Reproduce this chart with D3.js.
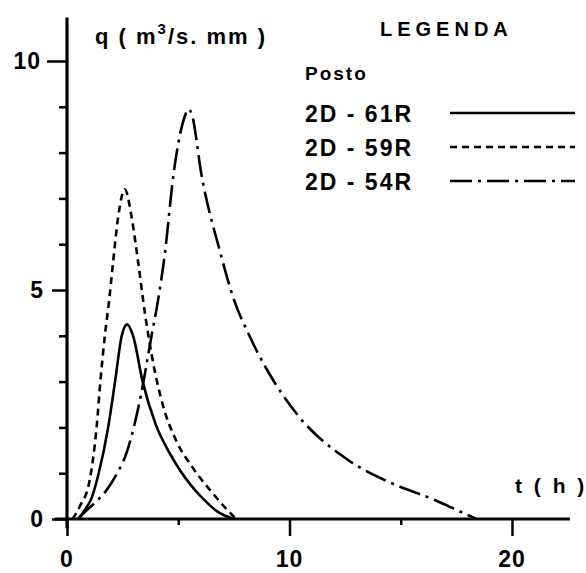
<!DOCTYPE html>
<html>
<head>
<meta charset="utf-8">
<script src="https://cdn.jsdelivr.net/npm/d3@7"></script>
<style>
  body { margin: 0; background: #fff; }
  text { font-family: "Liberation Sans", Arial, sans-serif; font-weight: bold; fill: #000; }
</style>
</head>
<body>
<svg id="chart"></svg>
<script>
// hydrograph values: t (h) and q (m3/s.mm)
const t61 = [0.5, 0.8, 1.1, 1.4, 1.85, 2.16, 2.46, 2.7, 2.97, 3.4, 4.0, 4.6, 5.1, 6.1, 6.8, 7.5];
const q61 = [0, 0.2, 0.45, 0.95, 2.0, 3.0, 4.0, 4.25, 4.0, 3.0, 2.05, 1.45, 1.05, 0.45, 0.15, 0];

const t59 = [0.25, 0.6, 1.0, 1.33, 1.5, 1.7, 1.9, 2.07, 2.3, 2.6, 2.9, 3.2, 3.5, 3.8, 4.3, 4.9, 5.68, 6.57, 7.2, 7.6];
const q59 = [0, 0.3, 0.8, 2.0, 3.0, 4.0, 4.8, 5.6, 6.6, 7.2, 6.6, 5.6, 4.5, 3.6, 2.5, 1.72, 1.1, 0.55, 0.2, 0];

const t54 = [0.5, 0.73, 1.2, 1.78, 2.2, 2.68, 3.28, 3.8, 4.1, 4.4, 4.78, 5.3, 5.45, 5.6, 6.05, 6.9, 7.46, 8.2, 9.57, 10.4, 12.6, 14.6, 16.5, 17.5, 18.4];
const q54 = [0, 0.12, 0.33, 0.63, 0.95, 1.45, 2.6, 4.0, 4.8, 5.8, 7.5, 8.8, 8.95, 8.85, 7.5, 5.8, 4.85, 4.0, 2.8, 2.25, 1.3, 0.78, 0.42, 0.2, 0];

const seriesNames = ["2D - 61R", "2D - 59R", "2D - 54R"];
const xTicks = [0, 5, 10, 15, 20];
const xLabels = [0, 10, 20];
const yTicks = [0, 1, 2, 3, 4, 5, 6, 7, 8, 9, 10];
const yLabels = [0, 5, 10];

const width = 586, height = 573;
const dashes = [null, "7,5", "22,6,3,6"];

const svg = d3.select("#chart")
    .attr("width", width)
    .attr("height", height);

const x = d3.scaleLinear().domain([0, 20]).range([67, 512]);
const y = d3.scaleLinear().domain([0, 10]).range([519, 61]);

// axes
const xAxis = svg.append("g")
    .attr("transform", `translate(0,${y(0)})`)
    .call(d3.axisBottom(x).tickValues(xTicks).tickFormat(""));
xAxis.select(".domain").remove();
xAxis.selectAll(".tick line")
    .attr("stroke-width", 2.5)
    .attr("y2", d => d % 10 === 0 ? 17 : 6);

const yAxis = svg.append("g")
    .attr("transform", `translate(${x(0)},0)`)
    .call(d3.axisLeft(y).tickValues(yTicks).tickFormat(""));
yAxis.select(".domain").remove();
yAxis.selectAll(".tick line")
    .attr("stroke-width", 2.5)
    .attr("x2", d => d === 10 ? -20 : d % 5 === 0 ? -15 : -8);

svg.append("line")
    .attr("x1", x(-0.55)).attr("x2", x(22.6))
    .attr("y1", y(0)).attr("y2", y(0))
    .attr("stroke", "#000").attr("stroke-width", 3.2);

svg.append("line")
    .attr("x1", x(0)).attr("x2", x(0))
    .attr("y1", y(-0.2)).attr("y2", y(10.95))
    .attr("stroke", "#000").attr("stroke-width", 3.2);

svg.selectAll(".xlabel")
    .data(xLabels)
    .enter().append("text")
    .attr("class", "xlabel")
    .attr("x", d => x(d))
    .attr("y", 567)
    .attr("text-anchor", "middle")
    .style("font-size", "23px")
    .style("letter-spacing", "1px")
    .text(d => d);

svg.selectAll(".ylabel")
    .data(yLabels)
    .enter().append("text")
    .attr("class", "ylabel")
    .attr("x", d => d === 10 ? 41 : 44)
    .attr("y", d => y(d) + 8)
    .attr("text-anchor", "end")
    .style("font-size", "23px")
    .style("letter-spacing", "1px")
    .text(d => d);

// axis titles
const qLabel = svg.append("text")
    .attr("x", 95)
    .attr("y", 44)
    .style("font-size", "22px")
    .style("letter-spacing", "2px")
    .style("white-space", "pre");
qLabel.append("tspan").text("q ( m");
qLabel.append("tspan").attr("dy", -10).style("font-size", "15px").text("3");
qLabel.append("tspan").attr("dy", 10).text("/s. mm )");

svg.append("text")
    .attr("x", 515)
    .attr("y", 493)
    .style("font-size", "21px")
    .style("letter-spacing", "3px")
    .text("t ( h )");

// curves
const line = d3.line()
    .x(d => x(d[0]))
    .y(d => y(d[1]))
    .curve(d3.curveMonotoneX);

const series = [
    d3.zip(t61, q61),
    d3.zip(t59, q59),
    d3.zip(t54, q54)
];

svg.selectAll(".curve")
    .data(series)
    .enter().append("path")
    .attr("class", "curve")
    .attr("d", line)
    .attr("fill", "none")
    .attr("stroke", "#000")
    .attr("stroke-width", 2.6)
    .attr("stroke-dasharray", (d, i) => dashes[i]);

// legend
svg.append("text")
    .attr("x", 380)
    .attr("y", 36)
    .style("font-size", "20px")
    .style("letter-spacing", "5px")
    .text("LEGENDA");

svg.append("text")
    .attr("x", 305)
    .attr("y", 80)
    .style("font-size", "19px")
    .style("letter-spacing", "2px")
    .text("Posto");

const legendY = [113, 147, 181];
const legend = svg.selectAll(".legend")
    .data(seriesNames)
    .enter().append("g")
    .attr("class", "legend")
    .attr("transform", (d, i) => `translate(0,${legendY[i]})`);

legend.append("text")
    .attr("x", 305)
    .attr("y", 9)
    .style("font-size", "23px")
    .style("letter-spacing", "2px")
    .text(d => d);

legend.append("line")
    .attr("x1", 450).attr("x2", 575)
    .attr("y1", 0).attr("y2", 0)
    .attr("stroke", "#000")
    .attr("stroke-width", 2.6)
    .attr("stroke-dasharray", (d, i) => dashes[i]);
</script>
</body>
</html>
